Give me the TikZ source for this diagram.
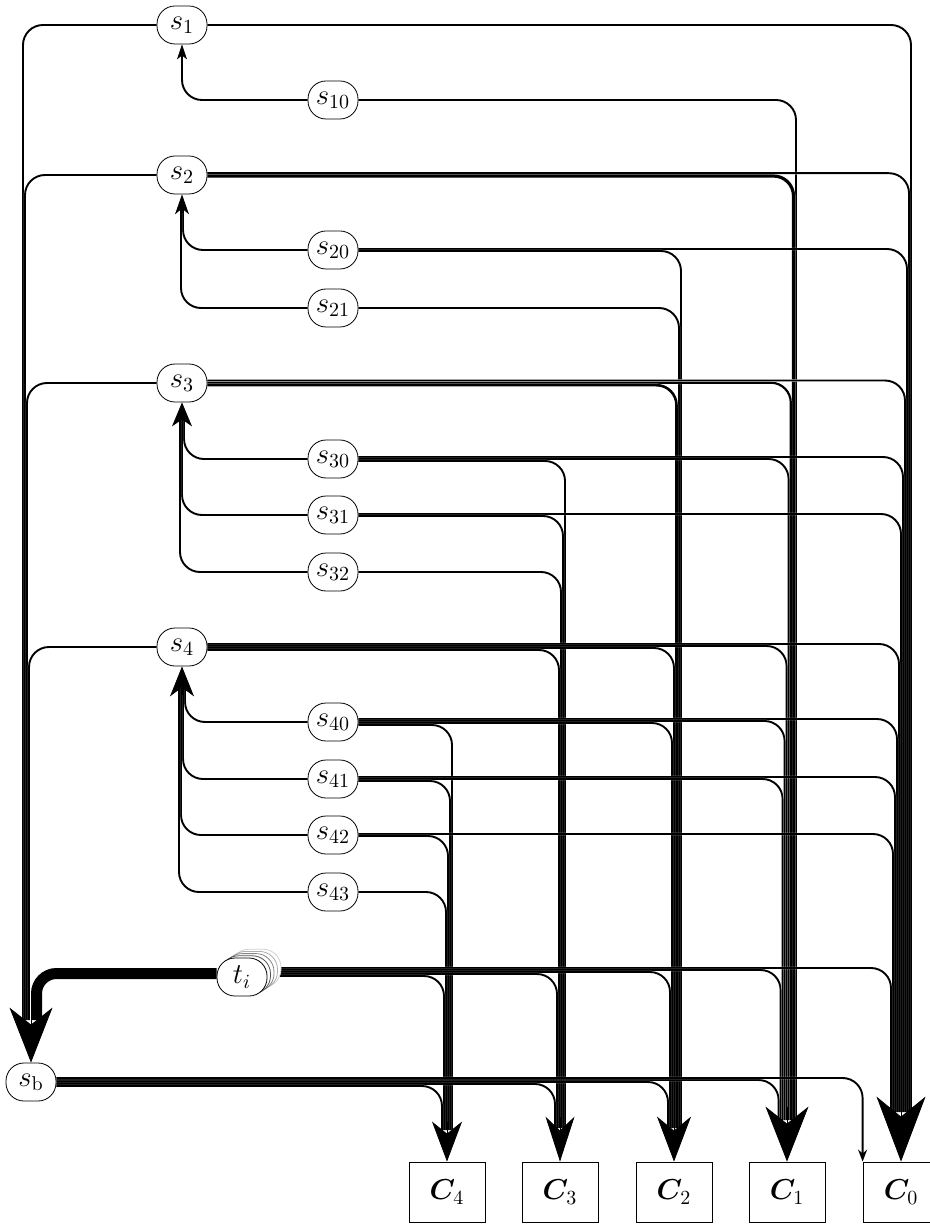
\documentclass[tikz,border=0pt]{standalone}
\usepackage{bm}
\usetikzlibrary{arrows.meta}
\pgfdeclarelayer{background}
\pgfsetlayers{background,main}
\tikzset{
  snode/.style={draw, fill=white, rounded corners=9pt, minimum width=25pt,
    minimum height=19pt, inner sep=1pt, font=\Large},
  cbox/.style={draw, fill=white, minimum width=38pt, minimum height=30pt,
    inner sep=0pt, font=\Large},
  flow/.style={line width=#1*0.5pt, rounded corners=10pt,
    preaction={draw=white, line width=(#1+0.5)*0.5pt}},
}
% width, start anchor, vertical offset (px, downwards), bundle x, end y
\newcommand\flowline[5]{\draw[flow=#1] ([yshift=-0.5pt*(#3)]#2) -| (#4,#5);}
% start, target, tip length, tip width, inset
\newcommand\flowarrow[5]{\draw[-{Stealth[length=#3,width=#4,inset=#5]}] (#1) -- (#2);}

\begin{document}
\begin{tikzpicture}[x=0.5pt, y=-0.5pt]
\useasboundingbox (0,0) rectangle (930,1224);

% states
\node[snode] (s1)  at (182,25)  {$s_1$};
\node[snode] (s10) at (333,100) {$s_{10}$};
\node[snode] (s2)  at (182,175) {$s_2$};
\node[snode] (s20) at (333,250) {$s_{20}$};
\node[snode] (s21) at (333,308) {$s_{21}$};
\node[snode] (s3)  at (182,383) {$s_3$};
\node[snode] (s30) at (333,459) {$s_{30}$};
\node[snode] (s31) at (333,515) {$s_{31}$};
\node[snode] (s32) at (333,572) {$s_{32}$};
\node[snode] (s4)  at (182,647) {$s_4$};
\node[snode] (s40) at (333,722) {$s_{40}$};
\node[snode] (s41) at (333,779) {$s_{41}$};
\node[snode] (s42) at (333,835) {$s_{42}$};
\node[snode] (s43) at (333,892) {$s_{43}$};
\foreach \i/\c in {4/18,3/32,2/48,1/68}
  \node[snode, draw=black!\c] (tishadow\i) at ({242+3.5*\i},{977-2.2*\i}) {};
\node[snode] (ti)  at (242,977) {$t_i$};
\node[snode] (sb)  at (31,1082) {$s_{\mathrm{b}}$};

% classes
\node[cbox] (C4) at (447,1192) {$\bm{C}_4$};
\node[cbox] (C3) at (560,1192) {$\bm{C}_3$};
\node[cbox] (C2) at (674,1192) {$\bm{C}_2$};
\node[cbox] (C1) at (787,1192) {$\bm{C}_1$};
\node[cbox] (C0) at (901,1192) {$\bm{C}_0$};

\begin{pgfonlayer}{background}
% s1
\flowline{1.9}{s1.west}{0}{23}{1020}
\flowline{1.9}{s1.east}{0}{911}{1112}
% s10
\flowline{1.9}{s10.west}{0}{182}{55}
\flowline{1.9}{s10.east}{0}{796}{1120}
% s2
\flowline{1.9}{s2.west}{0}{25}{1020}
\flowline{1.9}{s2.east}{-1.8}{909}{1112}
\flowline{3.2}{s2.east}{1}{793.5}{1120}
% s20
\flowline{1.9}{s20.west}{0}{183}{208}
\flowline{1.9}{s20.east}{-1}{907}{1112}
\flowline{1.9}{s20.east}{1}{681}{1128}
% s21
\flowline{1.9}{s21.west}{0}{181}{208}
\flowline{1.9}{s21.east}{0}{679}{1128}
% s3
\flowline{1.9}{s3.west}{0}{27}{1020}
\flowline{1.9}{s3.east}{-2.5}{905}{1112}
\flowline{2.2}{s3.east}{-0.3}{790.8}{1120}
\flowline{2.6}{s3.east}{2.2}{676.5}{1128}
% s30
\flowline{1.9}{s30.west}{0}{184}{419}
\flowline{1.9}{s30.east}{-2}{903}{1112}
\flowline{1.9}{s30.east}{0}{788.6}{1120}
\flowline{1.9}{s30.east}{2}{565}{1128}
% s31
\flowline{1.9}{s31.west}{0}{182}{419}
\flowline{1.9}{s31.east}{-1}{901}{1112}
\flowline{1.9}{s31.east}{1}{563}{1128}
% s32
\flowline{1.9}{s32.west}{0}{180}{419}
\flowline{1.9}{s32.east}{0}{561}{1128}
% s4
\flowline{1.9}{s4.west}{0}{29}{1020}
\flowline{1.9}{s4.east}{-3}{899}{1112}
\flowline{1.9}{s4.east}{-1}{786.6}{1120}
\flowline{1.9}{s4.east}{1}{674}{1128}
\flowline{1.9}{s4.east}{3}{559}{1128}
% s40
\flowline{1.9}{s40.west}{0}{185}{688}
\flowline{1.9}{s40.east}{-3}{897}{1112}
\flowline{1.9}{s40.east}{-1}{784.6}{1120}
\flowline{1.9}{s40.east}{1}{672}{1128}
\flowline{1.9}{s40.east}{3}{452}{1130}
% s41
\flowline{1.9}{s41.west}{0}{183}{688}
\flowline{1.9}{s41.east}{-2}{895}{1112}
\flowline{1.9}{s41.east}{0}{782.6}{1120}
\flowline{1.9}{s41.east}{2}{450}{1130}
% s42
\flowline{1.9}{s42.west}{0}{181}{688}
\flowline{1.9}{s42.east}{-1}{893}{1112}
\flowline{1.9}{s42.east}{1}{448}{1130}
% s43
\flowline{1.9}{s43.west}{0}{179}{688}
\flowline{1.9}{s43.east}{0}{446}{1130}
% t_i
\flowline{11}{ti.west}{-3.5}{36.5}{1020}
\flowline{1.9}{ti.east}{-9}{891}{1112}
\flowline{1.9}{ti.east}{-7}{780.6}{1120}
\flowline{1.9}{ti.east}{-5}{670}{1128}
\flowline{1.9}{ti.east}{-3}{557}{1128}
\flowline{1.9}{ti.east}{-1}{444}{1130}
% s_b
\flowline{1.9}{sb.east}{-2}{778.6}{1120}
\flowline{1.9}{sb.east}{0}{668}{1128}
\flowline{1.9}{sb.east}{2}{555}{1128}
\flowline{1.9}{sb.east}{4}{442}{1130}
\end{pgfonlayer}

% merged arrow heads
\flowarrow{182,58}{s1.south}{7.5pt}{5pt}{2pt}
\flowarrow{182,213}{s2.south}{10pt}{7pt}{3pt}
\flowarrow{182,425}{s3.south}{12pt}{10pt}{3.5pt}
\flowarrow{182,695}{s4.south}{15pt}{12pt}{4.5pt}
\flowarrow{31,1007}{sb.north}{27.5pt}{21.5pt}{8.5pt}
\flowarrow{447,1122}{C4.north}{20pt}{15pt}{6pt}
\flowarrow{560,1117}{C3.north}{22.5pt}{14.5pt}{7pt}
\flowarrow{674,1117}{C2.north}{22.5pt}{17pt}{7pt}
\flowarrow{787,1107}{C1.north}{27.5pt}{21.5pt}{8.5pt}
\flowarrow{901,1097}{C0.north}{32.5pt}{24.5pt}{10pt}

% single flow from s_b into C_0
\draw[flow=1.9, -{Stealth[length=6pt,width=4.5pt]}] ([yshift=2pt]sb.east) -| (C0.north west);
\end{tikzpicture}
\end{document}
